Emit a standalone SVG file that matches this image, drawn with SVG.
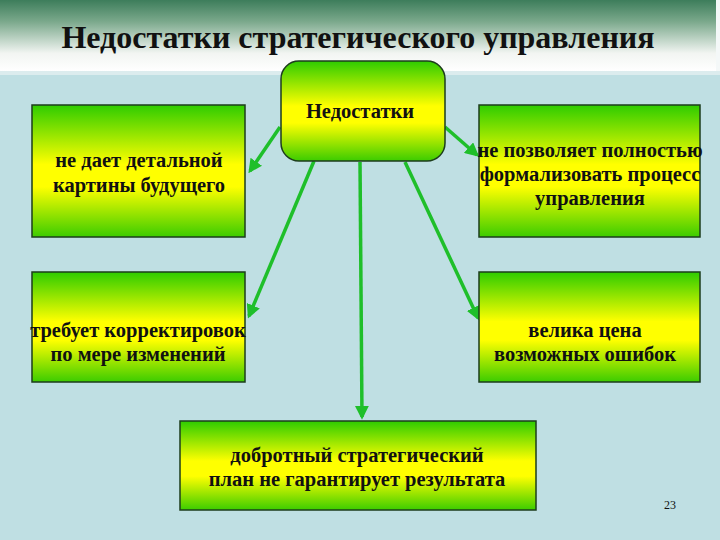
<svg xmlns="http://www.w3.org/2000/svg" width="720" height="540" viewBox="0 0 720 540">
<style>
.box{stroke:#1d3d1d;stroke-width:1.5}
.t{font-family:"Liberation Serif","Times New Roman",serif;font-weight:bold;fill:#111;text-anchor:middle}
.bt{font-size:20.5px}
.c{stroke:#1fbf2a;stroke-width:3.5;fill:none;marker-end:url(#ah)}
</style>
<defs>
<linearGradient id="hdr" x1="0" y1="0" x2="0" y2="1">
<stop offset="0" stop-color="#3d7d5b"/>
<stop offset="0.3" stop-color="#7aa88b"/>
<stop offset="0.75" stop-color="#f2f5f2"/>
<stop offset="1" stop-color="#ffffff"/>
</linearGradient>
<linearGradient id="g" x1="0" y1="0" x2="0" y2="1">
<stop offset="0" stop-color="#2ecc00"/>
<stop offset="0.45" stop-color="#ffff00"/>
<stop offset="0.62" stop-color="#ffff00"/>
<stop offset="1" stop-color="#3ccc00"/>
</linearGradient>
<marker id="ah" viewBox="0 0 10 10" refX="8" refY="5" markerWidth="4" markerHeight="4" orient="auto" markerUnits="strokeWidth">
<path d="M0,0 L10,5 L0,10 z" fill="#1fbf2a"/>
</marker>
</defs>
<rect x="0" y="0" width="720" height="540" fill="#bfdfe3"/>
<rect x="0" y="0" width="716" height="71" fill="url(#hdr)"/>
<rect x="716" y="0" width="4" height="75" fill="#f4f8f8"/>
<rect x="0" y="71" width="720" height="4" fill="#dcecee"/>
<text class="t" x="358" y="48" font-size="32">Недостатки стратегического управления</text>
<g id="connectors">
<line class="c" x1="280" y1="127" x2="250" y2="171"/>
<line class="c" x1="445" y1="127" x2="477" y2="155"/>
<line class="c" x1="314" y1="161" x2="249" y2="316"/>
<line class="c" x1="405" y1="162" x2="478" y2="318"/>
<line class="c" x1="360" y1="162" x2="362" y2="417"/>
</g>
<g id="center">
<rect class="box" x="281" y="61" width="164" height="100" rx="18" fill="url(#g)"/>
<text class="t bt" x="360" y="118">Недостатки</text>
</g>
<g id="n1">
<rect class="box" x="32" y="105" width="213" height="132" fill="url(#g)"/>
<text class="t bt" x="139" y="167">не дает детальной</text>
<text class="t bt" x="139" y="192">картины будущего</text>
</g>
<g id="n2">
<rect class="box" x="479" y="105" width="221" height="132" fill="url(#g)"/>
<text class="t bt" x="590" y="157">не позволяет полностью</text>
<text class="t bt" x="590" y="181">формализовать процесс</text>
<text class="t bt" x="590" y="205">управления</text>
</g>
<g id="n3">
<rect class="box" x="32" y="272" width="213" height="110" fill="url(#g)"/>
<text class="t bt" x="138" y="337">требует корректировок</text>
<text class="t bt" x="138" y="361">по мере изменений</text>
</g>
<g id="n4">
<rect class="box" x="479" y="272" width="221" height="110" fill="url(#g)"/>
<text class="t bt" x="585" y="337">велика цена</text>
<text class="t bt" x="585" y="361">возможных ошибок</text>
</g>
<g id="n5">
<rect class="box" x="180" y="421" width="356" height="89" fill="url(#g)"/>
<text class="t bt" x="357" y="462">добротный стратегический</text>
<text class="t bt" x="357" y="486">план не гарантирует результата</text>
</g>
<text x="670" y="509" font-family="Liberation Serif, serif" font-size="12" fill="#111" text-anchor="middle">23</text>
</svg>
